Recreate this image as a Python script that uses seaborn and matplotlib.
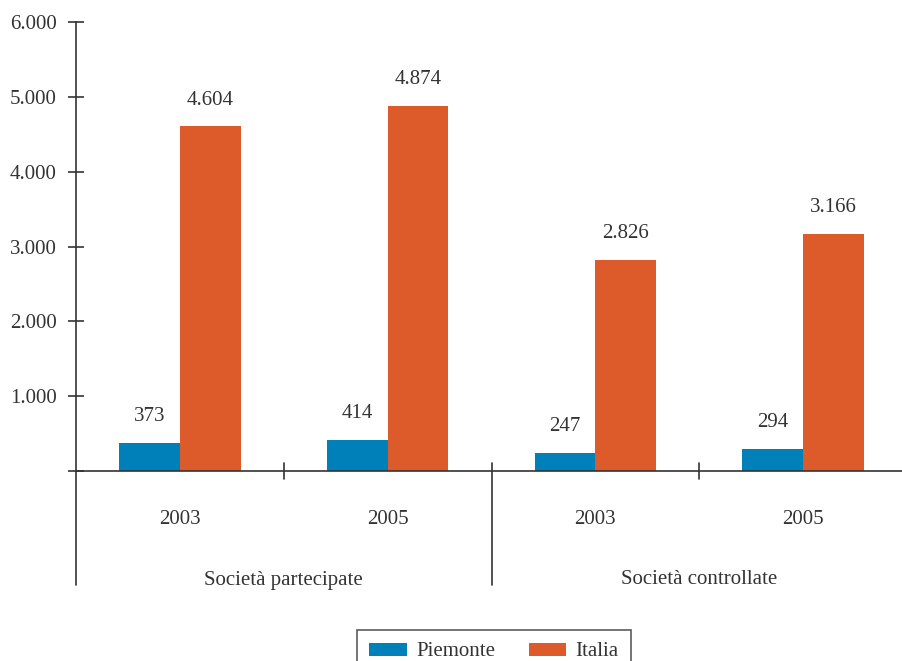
import matplotlib
matplotlib.use("Agg")
import matplotlib.pyplot as plt
import matplotlib.transforms as mtransforms
import seaborn as sns
import pandas as pd

groups = ["Società partecipate", "Società controllate"]
years = ["2003", "2005", "2003", "2005"]
slots = ["P-2003", "P-2005", "C-2003", "C-2005"]
piemonte = [373, 414, 247, 294]
italia = [4604, 4874, 2826, 3166]
series = ["Piemonte", "Italia"]
colors = ["#0080B8", "#DD5A2B"]
yticks = [0, 1000, 2000, 3000, 4000, 5000, 6000]
yticklabels = ["", "1.000", "2.000", "3.000", "4.000", "5.000", "6.000"]

rows = []
for s, v in zip(slots, piemonte):
    rows.append({"slot": s, "serie": "Piemonte", "val": v})
for s, v in zip(slots, italia):
    rows.append({"slot": s, "serie": "Italia", "val": v})
df = pd.DataFrame(rows)

sns.set_style("white")
plt.rcParams["font.family"] = ["Liberation Serif", "DejaVu Serif"]
txt = "#333333"
fs = 15

fig = plt.figure(figsize=(9.02, 6.61), dpi=100)
ax = fig.add_axes([76 / 902, (661 - 471) / 661, (907 - 76) / 902, (471 - 22) / 661])

sns.barplot(data=df, x="slot", y="val", hue="serie", order=slots,
            hue_order=series, palette=colors, width=0.585, saturation=1,
            edgecolor="none", ax=ax, legend=True)

ax.set_ylim(0, 6000)
ax.set_xlim(-0.5, 3.5)
ax.set_xlabel("")
ax.set_ylabel("")
ax.set_yticks(yticks)
ax.set_yticklabels(yticklabels, fontsize=fs, color=txt)
ax.tick_params(axis="y", left=True, direction="inout", length=12, width=1.2,
               color=txt, pad=8)
ax.set_xticks([])
for side in ["top", "right"]:
    ax.spines[side].set_visible(False)
for side in ["left", "bottom"]:
    ax.spines[side].set_color(txt)
    ax.spines[side].set_linewidth(1.2)

# value labels
for cont, vals in zip(ax.containers, [piemonte, italia]):
    for bar, v in zip(cont, vals):
        lab = f"{v:,}".replace(",", ".")
        ax.annotate(lab, (bar.get_x() + bar.get_width() / 2, v),
                    xytext=(0, 19), textcoords="offset points",
                    ha="center", va="center", fontsize=fs, color=txt)

trans = mtransforms.blended_transform_factory(ax.transData, ax.transAxes)
ax_h = 449.0
low = -(585 - 471) / ax_h
up = 8 / ax_h
ax.plot([-0.5, -0.5], [0, low], transform=trans, color=txt, lw=1.2, clip_on=False)
ax.plot([1.5, 1.5], [up, low], transform=trans, color=txt, lw=1.2, clip_on=False)
for xx in [0.5, 2.5]:
    ax.plot([xx, xx], [up, -up], transform=trans, color=txt, lw=1.2, clip_on=False)

for i, y in enumerate(years):
    ax.text(i, -(520 - 471) / ax_h, y, transform=trans, ha="center", va="center",
            fontsize=fs, color=txt)
for i, g in enumerate(groups):
    ax.text(0.5 + 2 * i, -(580 - 471) / ax_h, g, transform=trans, ha="center",
            va="center", fontsize=fs, color=txt)

handles, labels = ax.get_legend_handles_labels()
ax.legend_.remove()
leg = fig.legend(handles, labels, loc="upper center",
                 bbox_to_anchor=(494 / 902, (661 - 630) / 661), ncol=2,
                 frameon=True, fancybox=False, fontsize=fs, handlelength=1.8,
                 handleheight=0.6, handletextpad=0.45, columnspacing=1.6,
                 borderpad=0.6, borderaxespad=0, labelcolor=txt)
leg.get_frame().set_edgecolor(txt)
leg.get_frame().set_linewidth(1.2)

fig.savefig("out.png", dpi=100)
